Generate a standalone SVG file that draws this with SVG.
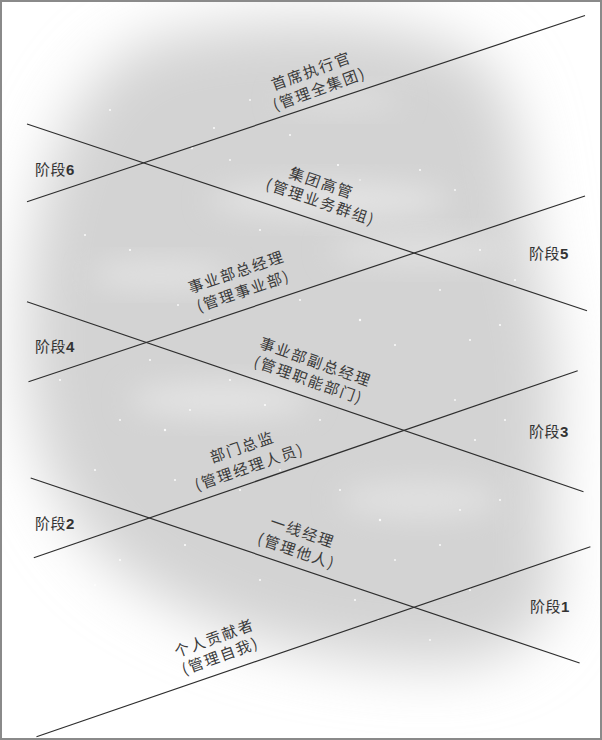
<svg xmlns="http://www.w3.org/2000/svg" width="602" height="740" viewBox="0 0 602 740">
  <style>
    .ln { stroke: #2e2e2e; stroke-width: 1.2; fill: none; }
    .lbl { font-family: "Noto Sans CJK SC", "Liberation Sans", sans-serif; font-size: 15px; fill: #3a3a3a; letter-spacing: 1.8px; text-anchor: middle; dominant-baseline: central; }
    .stage { font-family: "Liberation Sans", "Noto Sans CJK SC", sans-serif; font-size: 15px; fill: #333; letter-spacing: 0.5px; }
    .num { font-weight: bold; }
    .star { fill: #ffffff; opacity: 0.9; }
  </style>
  <defs>
    <filter id="blurBig" x="-30%" y="-30%" width="160%" height="160%">
      <feGaussianBlur stdDeviation="30"/>
    </filter>
    <filter id="blurMid" x="-50%" y="-50%" width="200%" height="200%">
      <feGaussianBlur stdDeviation="14"/>
    </filter>
  </defs>

  <g id="background">
    <rect x="0" y="0" width="602" height="740" fill="#ffffff"/>
    <path d="M 150,40 C 260,10 420,15 480,60 C 530,100 520,200 545,300 C 570,400 545,480 555,560 C 565,630 510,670 420,665 C 310,660 220,635 140,585 C 60,535 20,440 25,320 C 30,200 60,80 150,40 Z" fill="#d3d3d3" filter="url(#blurBig)"/>
    <ellipse cx="330" cy="200" rx="120" ry="18" fill="#e3e3e3" filter="url(#blurMid)"/>
    <ellipse cx="160" cy="275" rx="70" ry="14" fill="#e2e2e2" filter="url(#blurMid)"/>
    <ellipse cx="420" cy="250" rx="90" ry="16" fill="#e0e0e0" filter="url(#blurMid)"/>
    <ellipse cx="220" cy="400" rx="90" ry="18" fill="#e3e3e3" filter="url(#blurMid)"/>
    <ellipse cx="420" cy="500" rx="80" ry="20" fill="#e0e0e0" filter="url(#blurMid)"/>
    <ellipse cx="340" cy="100" rx="60" ry="12" fill="#dedede" filter="url(#blurMid)"/>
    <g id="stars">
      <circle class="star" cx="214" cy="128" r="1"/>
      <circle class="star" cx="192" cy="148" r="1.2"/>
      <circle class="star" cx="250" cy="100" r="0.9"/>
      <circle class="star" cx="290" cy="135" r="1"/>
      <circle class="star" cx="338" cy="165" r="1.1"/>
      <circle class="star" cx="360" cy="180" r="0.8"/>
      <circle class="star" cx="420" cy="170" r="1"/>
      <circle class="star" cx="455" cy="190" r="0.9"/>
      <circle class="star" cx="110" cy="110" r="1"/>
      <circle class="star" cx="85" cy="235" r="1"/>
      <circle class="star" cx="130" cy="250" r="1.1"/>
      <circle class="star" cx="178" cy="305" r="0.9"/>
      <circle class="star" cx="210" cy="320" r="1"/>
      <circle class="star" cx="300" cy="300" r="1"/>
      <circle class="star" cx="360" cy="320" r="1.2"/>
      <circle class="star" cx="395" cy="345" r="1"/>
      <circle class="star" cx="440" cy="290" r="0.9"/>
      <circle class="star" cx="470" cy="340" r="1"/>
      <circle class="star" cx="500" cy="325" r="1.1"/>
      <circle class="star" cx="515" cy="280" r="0.9"/>
      <circle class="star" cx="480" cy="250" r="1"/>
      <circle class="star" cx="60" cy="380" r="1"/>
      <circle class="star" cx="120" cy="420" r="1"/>
      <circle class="star" cx="165" cy="430" r="1.2"/>
      <circle class="star" cx="190" cy="410" r="0.9"/>
      <circle class="star" cx="230" cy="380" r="1"/>
      <circle class="star" cx="265" cy="405" r="1.1"/>
      <circle class="star" cx="320" cy="420" r="0.9"/>
      <circle class="star" cx="475" cy="440" r="1"/>
      <circle class="star" cx="505" cy="420" r="1"/>
      <circle class="star" cx="455" cy="400" r="0.9"/>
      <circle class="star" cx="95" cy="470" r="1"/>
      <circle class="star" cx="175" cy="480" r="1"/>
      <circle class="star" cx="240" cy="490" r="1.1"/>
      <circle class="star" cx="280" cy="470" r="0.9"/>
      <circle class="star" cx="340" cy="490" r="1"/>
      <circle class="star" cx="380" cy="520" r="1.2"/>
      <circle class="star" cx="440" cy="545" r="1"/>
      <circle class="star" cx="460" cy="510" r="0.9"/>
      <circle class="star" cx="500" cy="500" r="1"/>
      <circle class="star" cx="120" cy="560" r="1"/>
      <circle class="star" cx="185" cy="545" r="1.1"/>
      <circle class="star" cx="95" cy="585" r="0.9"/>
      <circle class="star" cx="260" cy="580" r="1"/>
      <circle class="star" cx="355" cy="600" r="1"/>
      <circle class="star" cx="378" cy="620" r="1.1"/>
      <circle class="star" cx="430" cy="640" r="0.9"/>
      <circle class="star" cx="470" cy="590" r="1"/>
      <circle class="star" cx="395" cy="560" r="0.9"/>
      <circle class="star" cx="150" cy="360" r="1"/>
      <circle class="star" cx="260" cy="230" r="1"/>
      <circle class="star" cx="230" cy="160" r="0.9"/>
    </g>
    <rect x="1" y="1" width="600" height="738" fill="none" stroke="#8a8a8a" stroke-width="2"/>
  </g>

  <g id="connectors">
    <line class="ln" x1="27" y1="201.7" x2="585" y2="15.5"/>
    <line class="ln" x1="27" y1="124" x2="587" y2="310.7"/>
    <line class="ln" x1="28.5" y1="381.7" x2="585" y2="196"/>
    <line class="ln" x1="27" y1="301.7" x2="583.5" y2="491.7"/>
    <line class="ln" x1="33.8" y1="557.7" x2="577.7" y2="370.7"/>
    <line class="ln" x1="30.7" y1="478" x2="579.6" y2="663"/>
    <line class="ln" x1="36.5" y1="736.7" x2="590.4" y2="546.7"/>
  </g>

  <g id="stages">
    <text id="stage6" class="stage" x="35" y="175">阶段<tspan class="num">6</tspan></text>
    <text id="stage5" class="stage" x="529" y="259">阶段<tspan class="num">5</tspan></text>
    <text id="stage4" class="stage" x="35" y="352">阶段<tspan class="num">4</tspan></text>
    <text id="stage3" class="stage" x="529" y="437">阶段<tspan class="num">3</tspan></text>
    <text id="stage2" class="stage" x="35" y="529">阶段<tspan class="num">2</tspan></text>
    <text id="stage1" class="stage" x="530" y="612">阶段<tspan class="num">1</tspan></text>
  </g>

  <g id="node-ceo">
    <text class="lbl" transform="translate(311,70) rotate(-20)">首席执行官</text>
    <text class="lbl" transform="translate(319,88) rotate(-20)">(管理全集团)</text>
  </g>
  <g id="node-group-exec">
    <text class="lbl" transform="translate(322,182) rotate(19)">集团高管</text>
    <text class="lbl" transform="translate(321,201) rotate(19)">(管理业务群组)</text>
  </g>
  <g id="node-bu-gm">
    <text class="lbl" transform="translate(236,271) rotate(-19)">事业部总经理</text>
    <text class="lbl" transform="translate(243,290) rotate(-19)">(管理事业部)</text>
  </g>
  <g id="node-bu-vgm">
    <text class="lbl" transform="translate(316,361) rotate(19.5)">事业部副总经理</text>
    <text class="lbl" transform="translate(309,379) rotate(19.5)">(管理职能部门)</text>
  </g>
  <g id="node-director">
    <text class="lbl" transform="translate(242,446) rotate(-19)">部门总监</text>
    <text class="lbl" transform="translate(249,466) rotate(-19)">(管理经理人员)</text>
  </g>
  <g id="node-frontline">
    <text class="lbl" transform="translate(303,531) rotate(19)">一线经理</text>
    <text class="lbl" transform="translate(297,550) rotate(19)">(管理他人)</text>
  </g>
  <g id="node-individual">
    <text class="lbl" transform="translate(214,637) rotate(-20)">个人贡献者</text>
    <text class="lbl" transform="translate(220,655) rotate(-20)">(管理自我)</text>
  </g>
</svg>
